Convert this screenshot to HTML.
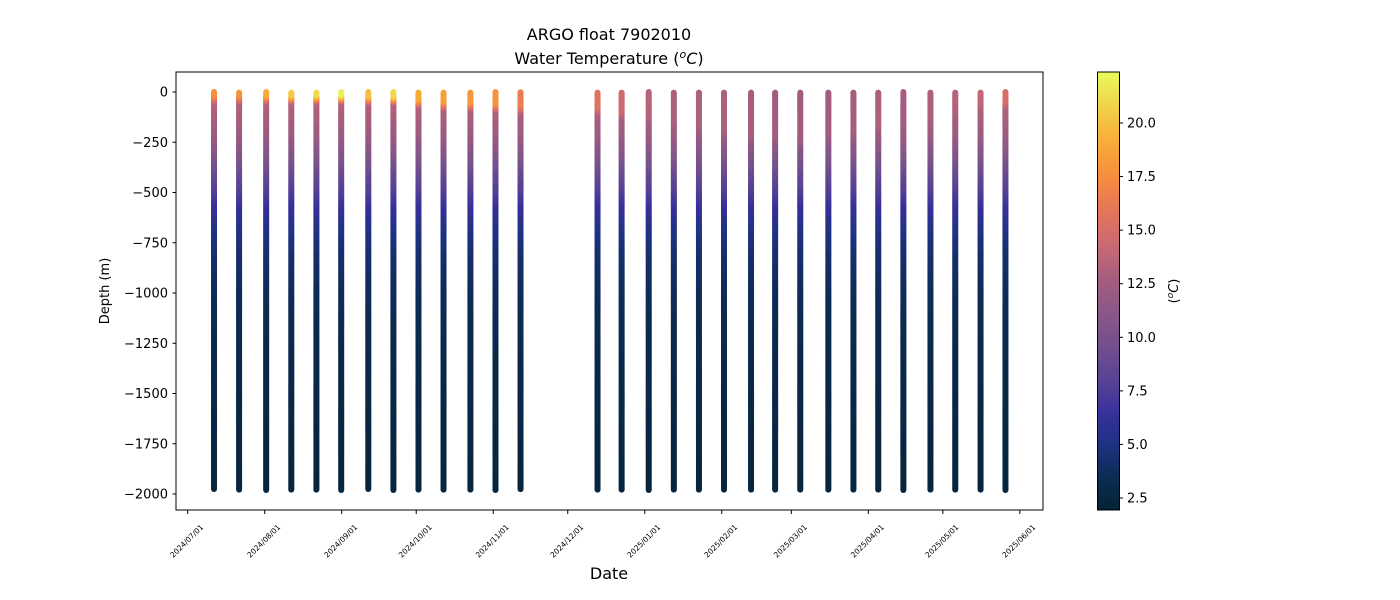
<!DOCTYPE html>
<html><head><meta charset="utf-8"><style>
body{margin:0;background:#fff}
svg{display:block;font-family:"DejaVu Sans","Liberation Sans",sans-serif}
</style></head><body>
<svg id="chart" width="1400" height="600" viewBox="0 0 1400 600" xmlns="http://www.w3.org/2000/svg">
<defs><linearGradient id="cbgrad" x1="0" y1="1" x2="0" y2="0"></linearGradient></defs>
<rect width="1400" height="600" fill="#fff"/>
<text x="609" y="40" text-anchor="middle" font-size="16">ARGO float 7902010</text>
<text x="609" y="64" text-anchor="middle" font-size="16">Water Temperature (<tspan font-style="italic" font-size="11" dy="-6">o</tspan><tspan font-style="italic" dy="6">C</tspan>)</text>
<g id="marks"></g>
<rect x="176" y="72" width="867" height="438" fill="none" stroke="#000" stroke-width="1"/>
<g id="yaxis"></g>
<g id="xaxis"></g>
<text transform="translate(109,291) rotate(-90)" text-anchor="middle" font-size="13">Depth (m)</text>
<text x="609" y="579" text-anchor="middle" font-size="16">Date</text>
<rect x="1097.5" y="72" width="22" height="438" fill="url(#cbgrad)" stroke="#000" stroke-width="1"/>
<g id="cbaxis"></g>
<text transform="translate(1178,291) rotate(-90)" text-anchor="middle" font-size="13">(<tspan font-style="italic" font-size="9" dy="-5">o</tspan><tspan font-style="italic" dy="5">C</tspan>)</text>
</svg>
<script>
// Data
const profileDays = [10.6,20.7,31.6,41.7,51.8,61.8,72.7,82.8,92.9,103,113.8,123.9,134,165,174.7,185.6,195.7,205.8,215.9,226.8,236.5,246.6,257.9,268,278,288.1,299,309,319.2,329.2];
const surfaceTemps = [17.5,17.8,19,20.5,21,22,20,21,19,18.5,18,17.8,16.5,15.5,14.5,13.5,13,13,13,12.8,12.6,12.6,12.6,12.8,13,12.8,13,13.5,14,15];
const mixedDepths = [15,15,15,15,15,15,20,20,35,45,50,55,65,70,90,110,140,160,190,210,220,230,210,190,170,140,100,70,50,40];
const bottomDepths = [1975,1978,1980,1978,1978,1980,1975,1980,1978,1978,1978,1980,1976,1978,1978,1980,1978,1978,1978,1978,1978,1978,1978,1978,1978,1980,1978,1978,1978,1980];
const baseDepths = [0,100,200,300,400,500,600,700,800,1000,1200,1500,2000];
const baseTemps = [13.5,13,12.3,10.8,9,7.4,6,5,4.3,3.6,3.2,2.8,2.5];
const yTicks = [0,-250,-500,-750,-1000,-1250,-1500,-1750,-2000];
const xTickDays = [0,31,62,92,123,153,184,215,243,274,304,335];
const xTickLabels = ["2024/07/01","2024/08/01","2024/09/01","2024/10/01","2024/11/01","2024/12/01","2025/01/01","2025/02/01","2025/03/01","2025/04/01","2025/05/01","2025/06/01"];
const cbTicks = [2.5,5.0,7.5,10.0,12.5,15.0,17.5,20.0];

const NS="http://www.w3.org/2000/svg";
const xS = d => 187.7 + d*2.484;
const yS = v => 92 + (-v)*0.201;
const cMin=1.94, cMax=22.38;
const cbY = t => 510 - (t-cMin)/(cMax-cMin)*438;
const stops=[[1.94,[4,35,51]],[3.5,[12,44,85]],[5,[30,50,130]],[6.5,[55,48,155]],[7.5,[80,62,150]],[10,[120,82,140]],[12.5,[160,92,128]],[14,[195,103,118]],[15,[214,110,104]],[16.5,[236,125,80]],[17.5,[246,142,62]],[19,[248,170,55]],[20,[244,192,65]],[22.38,[232,250,91]]];
function cmap(t){t=Math.max(cMin,Math.min(cMax,t));
 for(let i=0;i<stops.length-1;i++){if(t<=stops[i+1][0]){const r=(t-stops[i][0])/(stops[i+1][0]-stops[i][0]);const a=stops[i][1],b=stops[i+1][1];
  return `rgb(${Math.round(a[0]+(b[0]-a[0])*r)},${Math.round(a[1]+(b[1]-a[1])*r)},${Math.round(a[2]+(b[2]-a[2])*r)})`;}}
 return 'rgb(232,250,91)';}
function base(d){for(let i=0;i<baseDepths.length-1;i++){if(d<=baseDepths[i+1]){const r=(d-baseDepths[i])/(baseDepths[i+1]-baseDepths[i]);return baseTemps[i]+(baseTemps[i+1]-baseTemps[i])*r;}}return baseTemps[baseTemps.length-1];}
function tempAt(p,d){const s=surfaceTemps[p],m=mixedDepths[p];if(d<=m)return s;const b=base(d);const r=Math.min(1,(d-m)/40);const bm=Math.min(s,base(m+40));return d<m+40?s+(bm-s)*r:Math.min(b,bm);}
const g=document.getElementById('marks');
for(let p=0;p<profileDays.length;p++){
 const grp=document.createElementNS(NS,'g');
 
 
 const x=xS(profileDays[p]);
 for(let d=bottomDepths[p];d>=0;d-=5){
  const c=document.createElementNS(NS,'circle');
  c.setAttribute('cx',x);c.setAttribute('cy',yS(-d));c.setAttribute('r',3);
  c.setAttribute('fill',cmap(tempAt(p,d)));
  grp.appendChild(c);
 }
 g.appendChild(grp);
}
const ya=document.getElementById('yaxis');
yTicks.forEach(v=>{const y=yS(v);
 const l=document.createElementNS(NS,'line');l.setAttribute('x1',172.5);l.setAttribute('x2',176);l.setAttribute('y1',y);l.setAttribute('y2',y);l.setAttribute('stroke','#000');ya.appendChild(l);
 const t=document.createElementNS(NS,'text');
 
 
 t.setAttribute('x',168);t.setAttribute('y',y+4.5);t.setAttribute('text-anchor','end');t.setAttribute('font-size','13');t.textContent=v===0?'0':'\u2212'+Math.abs(v);ya.appendChild(t);});
const xa=document.getElementById('xaxis');
xTickDays.forEach((d,i)=>{const x=xS(d);
 const l=document.createElementNS(NS,'line');l.setAttribute('x1',x);l.setAttribute('x2',x);l.setAttribute('y1',510);l.setAttribute('y2',514);l.setAttribute('stroke','#000');xa.appendChild(l);
 const t=document.createElementNS(NS,'text');
 
 
 t.setAttribute('transform',`translate(${x-1},${541}) rotate(-45)`);t.setAttribute('text-anchor','middle');t.setAttribute('dy','0.35em');t.setAttribute('font-size','7.5');t.textContent=xTickLabels[i];xa.appendChild(t);});
const gr=document.getElementById('cbgrad');
for(let i=0;i<=40;i++){const t=cMin+(cMax-cMin)*i/40;const s=document.createElementNS(NS,'stop');s.setAttribute('offset',(i/40));s.setAttribute('stop-color',cmap(t));gr.appendChild(s);}
const ca=document.getElementById('cbaxis');
cbTicks.forEach(v=>{const y=cbY(v);
 const l=document.createElementNS(NS,'line');l.setAttribute('x1',1119.5);l.setAttribute('x2',1123);l.setAttribute('y1',y);l.setAttribute('y2',y);l.setAttribute('stroke','#000');ca.appendChild(l);
 const t=document.createElementNS(NS,'text');
 
 
 t.setAttribute('x',1127);t.setAttribute('y',y+4.5);t.setAttribute('font-size','13');t.textContent=v.toFixed(1);ca.appendChild(t);});
</script>
</body></html>
